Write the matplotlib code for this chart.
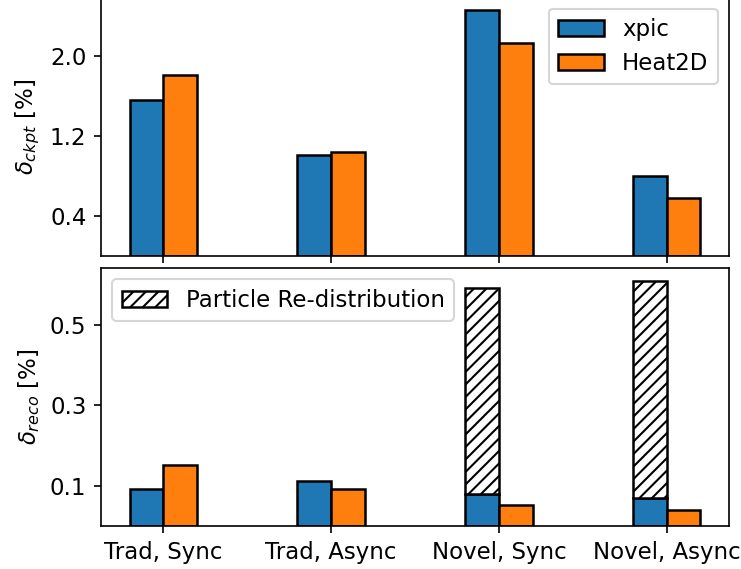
import matplotlib
matplotlib.use("Agg")
import matplotlib.pyplot as plt
import numpy as np

plt.rcParams["font.size"] = 11
plt.rcParams["hatch.linewidth"] = 1.0

categories = ["Trad, Sync", "Trad, Async", "Novel, Sync", "Novel, Async"]

# checkpoint overhead [%]
ckpt_xpic = [1.56, 1.01, 2.46, 0.80]
ckpt_heat = [1.81, 1.04, 2.13, 0.58]

# recovery overhead [%]
reco_xpic = [0.091, 0.112, 0.080, 0.070]
reco_heat = [0.151, 0.092, 0.052, 0.041]
redistribution = [0.0, 0.0, 0.511, 0.540]

x = np.arange(len(categories))
w = 0.2

fig = plt.figure(figsize=(741 / 150, 569 / 150), dpi=150)
ax1 = fig.add_axes([0.1363, 0.550, 0.8475, 0.455])
ax2 = fig.add_axes([0.1363, 0.0756, 0.8475, 0.4534], sharex=ax1)

ax1.bar(x - w / 2, ckpt_xpic, w, color="#1f77b4", edgecolor="black", linewidth=1.2, label="xpic")
ax1.bar(x + w / 2, ckpt_heat, w, color="#ff7f0e", edgecolor="black", linewidth=1.2, label="Heat2D")
ax1.set_ylim(0, 2.59)
ax1.set_yticks([0.4, 1.2, 2.0])
ax1.set_ylabel(r"$\delta_{ckpt}$ [%]")
ax1.legend(loc="upper right")
ax1.tick_params(axis="x", labelbottom=False)

ax2.bar(x - w / 2, reco_xpic, w, color="#1f77b4", edgecolor="black", linewidth=1.2)
ax2.bar(x + w / 2, reco_heat, w, color="#ff7f0e", edgecolor="black", linewidth=1.2)
idx = [i for i, v in enumerate(redistribution) if v > 0]
ax2.bar(x[idx] - w / 2, [redistribution[i] for i in idx], w,
        bottom=[reco_xpic[i] for i in idx], color="white", edgecolor="black",
        linewidth=1.2, hatch="////", label="Particle Re-distribution")
ax2.set_ylim(0, 0.642)
ax2.set_yticks([0.1, 0.3, 0.5])
ax2.set_ylabel(r"$\delta_{reco}$ [%]")
ax2.legend(loc="upper left")

ax2.set_xticks(x)
ax2.set_xticklabels(categories)

fig.savefig("out.png", dpi=150)
